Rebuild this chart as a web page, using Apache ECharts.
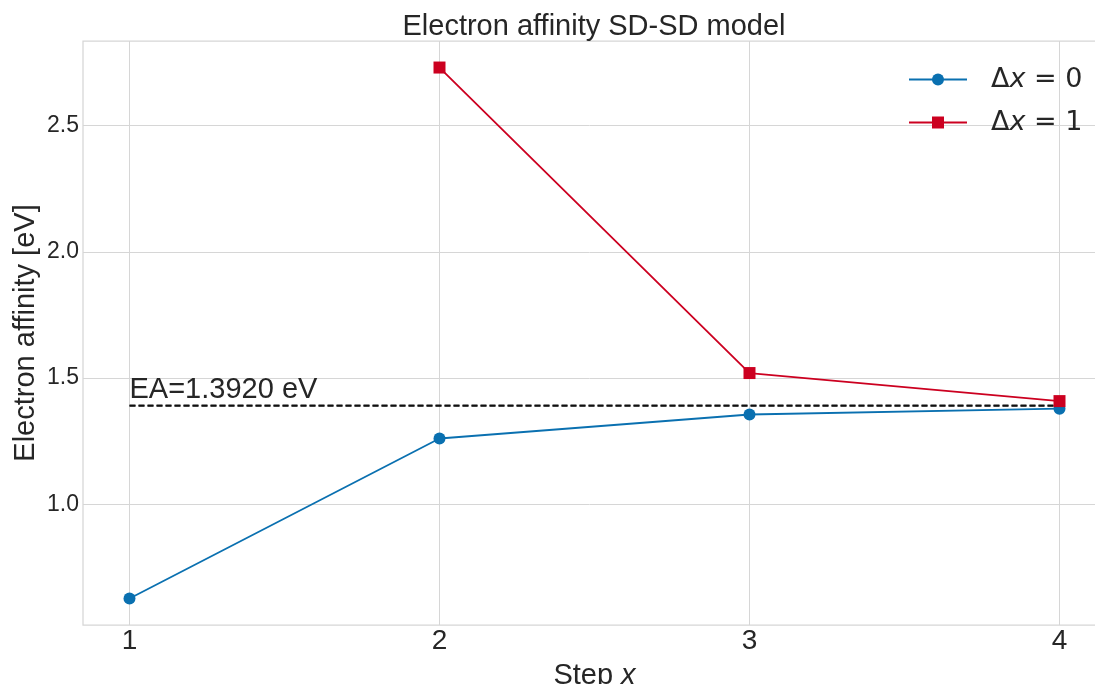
<!DOCTYPE html>
<html>
<head>
<meta charset="utf-8">
<script src="https://cdn.jsdelivr.net/npm/echarts@6/dist/echarts.min.js"></script>
<style>html,body{margin:0;padding:0;background:#fff}#c{width:1095px;height:684px}</style>
</head>
<body>
<div id="c"></div>
<script>
var steps = [1, 2, 3, 4];
var ea_dx0 = [0.628, 1.261, 1.356, 1.379];
var steps_dx1 = [2, 3, 4];
var ea_dx1 = [2.729, 1.520, 1.409];
var eaRef = 1.392;
var xTicks = [1, 2, 3, 4];
var yTicks = [1.0, 1.5, 2.0, 2.5];

var FONT = '"Liberation Sans", Arial, sans-serif';
var TXT = '#262626';
var GRIDC = '#d6d6d6';

function pairs(xs, ys) { return xs.map(function (x, i) { return [x, ys[i]]; }); }

var chart = echarts.init(document.getElementById('c'), null, { renderer: 'canvas' });
chart.setOption({
  backgroundColor: '#ffffff',
  animation: false,
  textStyle: { fontFamily: FONT, color: TXT },
  title: {
    text: 'Electron affinity SD-SD model',
    left: 589, top: 7, textAlign: 'center',
    textStyle: { fontFamily: FONT, fontSize: 29, fontWeight: 'normal', color: TXT }
  },
  legend: {
    orient: 'vertical',
    left: 903, top: 61,
    itemWidth: 58, itemHeight: 15, itemGap: 16,
    data: ['dx0', 'dx1'],
    formatter: function (n) { return '{a|Δ}{b|x}{a| = ' + (n === 'dx0' ? '0' : '1') + '}'; },
    textStyle: {
      color: TXT, padding: [0, 0, 0, 19],
      rich: {
        a: { fontFamily: '"DejaVu Sans", sans-serif', fontSize: 27, color: TXT },
        b: { fontFamily: '"DejaVu Sans", sans-serif', fontSize: 27, fontStyle: 'italic', color: TXT }
      }
    }
  },
  grid: { left: 83, right: -11, top: 41, bottom: 59, show: true, borderColor: GRIDC, borderWidth: 1.25,
    containLabel: false, outerBoundsMode: 'none' },
  xAxis: {
    type: 'value', min: 0.85, max: 4.15,
    axisLine: { show: false }, axisTick: { show: false, customValues: xTicks },
    axisLabel: { customValues: xTicks, fontSize: 28, color: TXT, fontFamily: FONT, margin: 2 },
    splitLine: { show: true, lineStyle: { color: GRIDC, width: 1 } },
    name: '{n|Step }{i|x}', nameLocation: 'middle', nameGap: 36, nameMoveOverlap: false,
    nameTextStyle: { rich: { n: { fontSize: 29, fontFamily: FONT, color: TXT }, i: { fontSize: 29, fontFamily: FONT, fontStyle: 'italic', color: TXT } } }
  },
  yAxis: {
    type: 'value', min: 0.523, max: 2.834,
    axisLine: { show: false }, axisTick: { show: false, customValues: yTicks },
    axisLabel: { customValues: yTicks, fontSize: 23, color: TXT, fontFamily: FONT, margin: 4,
      formatter: function (v) { return v.toFixed(1); } },
    splitLine: { show: true, lineStyle: { color: GRIDC, width: 1 } },
    name: 'Electron affinity [eV]', nameLocation: 'middle', nameGap: 43, nameRotate: 90, nameMoveOverlap: false,
    nameTextStyle: { fontSize: 29, fontFamily: FONT, color: TXT }
  },
  series: [
    {
      name: 'ref', type: 'line', data: pairs([steps[0], steps[steps.length - 1]], [eaRef, eaRef]),
      symbol: 'none', silent: true,
      lineStyle: { color: '#111111', width: 1.6, type: [6, 3] },
      z: 3,
      markLine: {
        symbol: 'none', silent: true,
        lineStyle: { color: '#111111', width: 1.6, type: [6, 3] },
        label: { show: true, position: 'insideStartTop', formatter: 'EA=1.3920 eV', fontSize: 29, fontFamily: FONT, color: TXT, distance: [0, 1] },
        data: [[{ coord: [steps[0], eaRef] }, { coord: [steps[steps.length - 1], eaRef] }]]
      }
    },
    {
      name: 'dx0', type: 'line', data: pairs(steps, ea_dx0),
      symbol: 'circle', symbolSize: 12,
      itemStyle: { color: '#0a70b0' }, lineStyle: { color: '#0a70b0', width: 1.8 }, z: 4
    },
    {
      name: 'dx1', type: 'line', data: pairs(steps_dx1, ea_dx1),
      symbol: 'rect', symbolSize: 12,
      itemStyle: { color: '#cc0020' }, lineStyle: { color: '#cc0020', width: 1.8 }, z: 5
    }
  ]
});
</script>
</body>
</html>
